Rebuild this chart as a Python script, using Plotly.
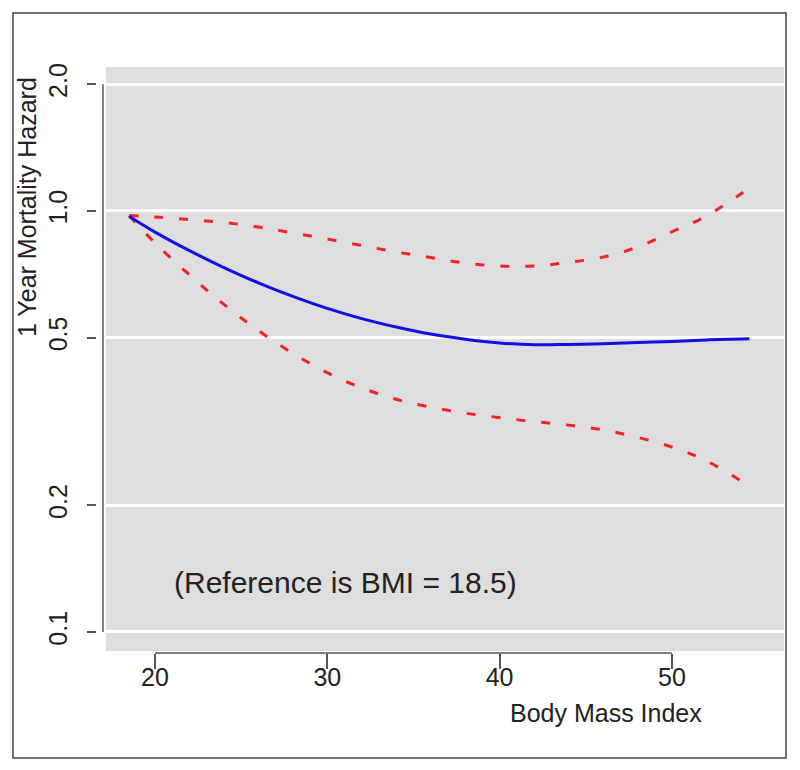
import plotly.graph_objects as go

# Values
BMI = [18.5, 20, 22, 24, 26, 28, 30, 32, 34, 36, 38, 40, 42, 44, 46, 48, 50, 52, 54.5]
HAZARD = [0.970, 0.891, 0.805, 0.734, 0.675, 0.627, 0.587, 0.555, 0.530, 0.510,
          0.496, 0.486, 0.481, 0.482, 0.484, 0.487, 0.490, 0.494, 0.497]
UPPER = [0.975, 0.968, 0.954, 0.939, 0.916, 0.887, 0.858, 0.828, 0.799, 0.775,
         0.752, 0.740, 0.740, 0.755, 0.777, 0.821, 0.892, 0.973, 1.134]
LOWER = [0.975, 0.839, 0.705, 0.600, 0.520, 0.459, 0.413, 0.380, 0.357, 0.342,
         0.331, 0.323, 0.316, 0.310, 0.302, 0.290, 0.275, 0.255, 0.222]
X_TICKS = [20, 30, 40, 50]
Y_TICKS = [0.1, 0.2, 0.5, 1.0, 2.0]
Y_TICK_TEXT = ["0.1", "0.2", "0.5", "1.0", "2.0"]

FONT = "Liberation Sans, Arial, sans-serif"
TEXT = "#222222"
AXIS = "#555555"

fig = go.Figure()
for band in (UPPER, LOWER):
    fig.add_trace(go.Scatter(
        x=BMI, y=band, mode="lines", line_shape="spline",
        line=dict(color="#f02424", width=3, dash="9px,16px"),
        showlegend=False, hoverinfo="skip",
    ))
fig.add_trace(go.Scatter(
    x=BMI, y=HAZARD, mode="lines", line_shape="spline",
    line=dict(color="#1010e6", width=3),
    showlegend=False,
))

fig.update_layout(
    width=800, height=770,
    margin=dict(l=97, r=16, t=67, b=117),
    paper_bgcolor="white", plot_bgcolor="white",
    font=dict(family=FONT, size=25, color=TEXT),
    xaxis=dict(
        range=[16.634, 56.506], tickvals=X_TICKS, ticks="outside", ticklen=15,
        tickcolor=AXIS, tickwidth=1.5, showgrid=False, zeroline=False, showline=False,
        tickfont=dict(size=25, color=TEXT), automargin=False, ticklabelstandoff=-13,
    ),
    yaxis=dict(
        type="log", range=[-1.0499, 0.342], tickvals=Y_TICKS, ticktext=Y_TICK_TEXT,
        tickangle=-90, ticks="outside", ticklen=9, tickcolor=AXIS, tickwidth=1.5,
        showgrid=True, gridcolor="white", gridwidth=2.5, zeroline=False, showline=False,
        tickfont=dict(size=25, color=TEXT), automargin=False, ticklabelstandoff=10,
    ),
    shapes=[
        # gray panel
        dict(type="rect", xref="paper", yref="paper", x0=0.0131, x1=1.0, y0=0.0034, y1=1.0,
             fillcolor="#dedede", line=dict(width=0), layer="below"),
        # y axis line spanning the tick range
        dict(type="line", xref="paper", yref="y", x0=0.0087, x1=0.0087,
             y0=Y_TICKS[0], y1=Y_TICKS[-1], line=dict(color=AXIS, width=1.5)),
        # x axis line spanning the tick range
        dict(type="line", xref="x", yref="paper", x0=X_TICKS[0], x1=X_TICKS[-1], y0=0, y1=0,
             line=dict(color=AXIS, width=1.5)),
        # outer frame
        dict(type="rect", xref="paper", yref="paper", x0=-0.1223, x1=1.0029, y0=-0.1792, y1=1.0922,
             line=dict(color="#444444", width=1.5), fillcolor="rgba(0,0,0,0)"),
    ],
    annotations=[
        dict(text="1 Year Mortality Hazard", xref="paper", yref="paper", x=-0.1019, y=0.761,
             textangle=-90, showarrow=False, font=dict(size=25, color=TEXT),
             xanchor="center", yanchor="middle"),
        dict(text="Body Mass Index", xref="paper", yref="paper", x=0.741, y=-0.1024,
             showarrow=False, font=dict(size=25, color=TEXT), xanchor="center", yanchor="middle"),
        dict(text="(Reference is BMI = 18.5)", xref="paper", yref="paper", x=0.361, y=0.121,
             showarrow=False, font=dict(size=30, color=TEXT), xanchor="center", yanchor="middle"),
    ],
)

# drop the default page margin so the figure sits at the window's corner
fig.write_html(
    "out.html",
    config={"displayModeBar": False},
    post_script="document.body.style.margin = '0';",
)
